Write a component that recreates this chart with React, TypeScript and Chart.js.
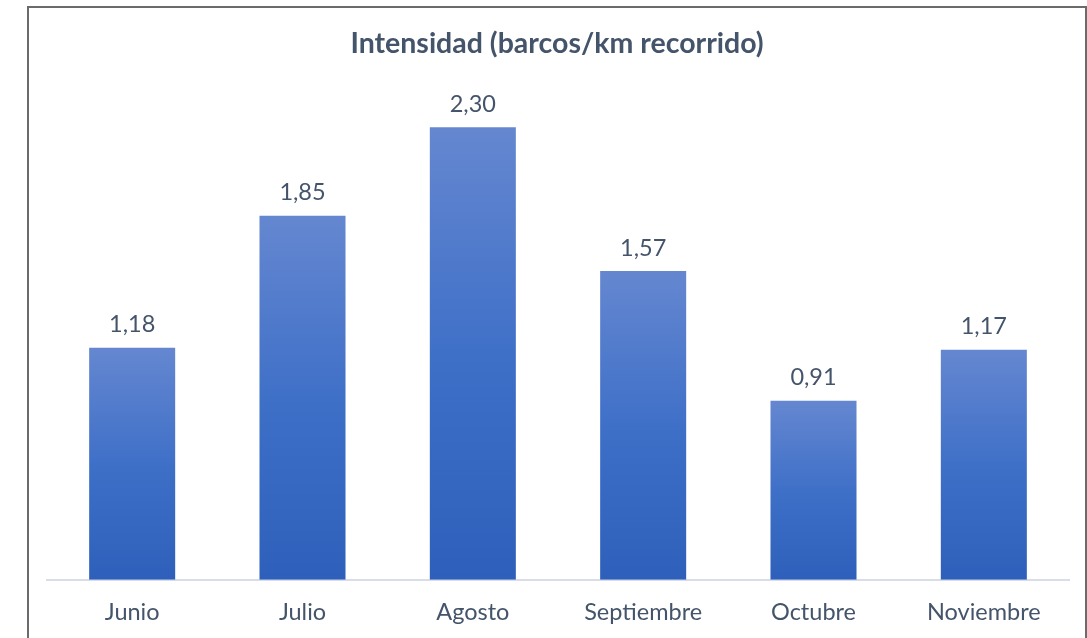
import React, { useEffect, useRef } from "react";
import { Chart, registerables } from "chart.js";

Chart.register(...registerables);

const categories = ["Junio", "Julio", "Agosto", "Septiembre", "Octubre", "Noviembre"];
const values = [1.18, 1.85, 2.3, 1.57, 0.91, 1.17];
const valueLabels = ["1,18", "1,85", "2,30", "1,57", "0,91", "1,17"];
const chartTitle = "Intensidad (barcos/km recorrido)";

const FONT = "Lato, 'Open Sans', sans-serif";
const TEXT = "#44546a";

export default function App() {
  const ref = useRef<HTMLCanvasElement | null>(null);

  useEffect(() => {
    document.body.style.margin = "0";
    const canvas = ref.current!;
    const titlePlugin = {
      id: "customTitle",
      afterDraw(chart: any) {
        const ctx = chart.ctx;
        ctx.save();
        ctx.font = `bold 28.5px ${FONT}`;
        ctx.fillStyle = TEXT;
        ctx.textAlign = "center";
        ctx.textBaseline = "middle";
        ctx.fillText(chartTitle, 557, 44);
        ctx.restore();
      },
    };
    const labelPlugin = {
      id: "valueLabels",
      afterDatasetsDraw(chart: any) {
        const ctx = chart.ctx;
        const meta = chart.getDatasetMeta(0);
        ctx.save();
        ctx.font = `23.5px ${FONT}`;
        ctx.fillStyle = TEXT;
        ctx.textAlign = "center";
        ctx.textBaseline = "middle";
        meta.data.forEach((bar: any, i: number) => {
          ctx.fillText(valueLabels[i], bar.x, bar.y - 23);
        });
        ctx.restore();
      },
    };
    const chart = new Chart(canvas, {
      type: "bar",
      data: {
        labels: categories,
        datasets: [
          {
            data: values,
            categoryPercentage: 1,
            barPercentage: 0.505,
            backgroundColor: (c: any) => {
              const ch = c.chart;
              const ys = ch.scales?.y;
              if (!ys || !ch.chartArea || c.parsed == null) return "#4472c4";
              const top = ys.getPixelForValue(c.parsed.y);
              const base = ys.getPixelForValue(0);
              if (!isFinite(top) || !isFinite(base) || base - top < 1) return "#4472c4";
              const g = ch.ctx.createLinearGradient(0, top, 0, base);
              g.addColorStop(0, "#6587d0");
              g.addColorStop(0.5, "#3f70c8");
              g.addColorStop(1, "#2e5fba");
              return g;
            },
            borderWidth: 0,
          },
        ],
      },
      options: {
        animation: false,
        responsive: false,
        maintainAspectRatio: false,
        layout: { padding: { left: 47, right: 18, top: 88, bottom: 0 } },
        plugins: {
          legend: { display: false },
          title: { display: false },
          tooltip: { enabled: false },
        },
        scales: {
          x: {
            grid: { display: false },
            border: { display: true, color: "#d9dde8", width: 2 },
            ticks: {
              color: TEXT,
              font: { family: FONT, size: 23.5 },
              padding: 11,
            },
          },
          y: {
            display: false,
            min: 0,
            max: 2.5,
          },
        },
      },
      plugins: [titlePlugin, labelPlugin],
    });
    return () => chart.destroy();
  }, []);

  return (
    <div style={{ position: "fixed", left: 0, top: 0, width: 1087, height: 638, background: "#fff", overflow: "hidden" }}>
      <div
        style={{
          position: "absolute",
          left: 27,
          top: 6,
          width: 1056,
          height: 700,
          borderLeft: "2px solid #6b6b6b",
          borderTop: "2px solid #6b6b6b",
          borderRight: "2px solid #6b6b6b",
        }}
      />
      <canvas ref={ref} width={1087} height={638} style={{ position: "absolute", left: 0, top: 0 }} />
    </div>
  );
}
